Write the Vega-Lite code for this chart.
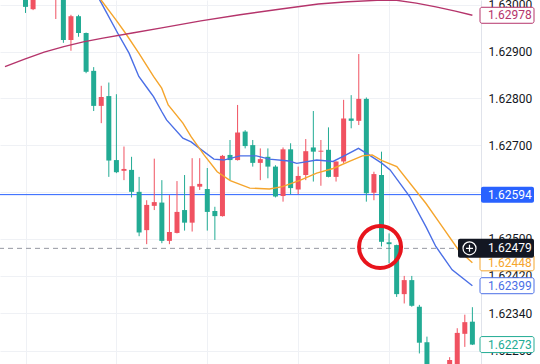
{
  "$schema": "https://vega.github.io/schema/vega-lite/v6.json",
  "width": 481,
  "height": 364,
  "autosize": {"type": "none"},
  "padding": {"left": 0, "top": 0, "right": 59, "bottom": 0},
  "background": "white",
  "config": {"view": {"stroke": null}, "font": "Roboto"},
  "datasets": {
    "candles": [
      {"i": 0, "o": 1.63032, "h": 1.63043, "l": 1.62983, "c": 1.62996},
      {"i": 1, "o": 1.62991, "h": 1.63028, "l": 1.62989, "c": 1.63017},
      {"i": 4, "o": 1.63021, "h": 1.63096, "l": 1.62970, "c": 1.63075},
      {"i": 5, "o": 1.63021, "h": 1.63032, "l": 1.62919, "c": 1.62925},
      {"i": 6, "o": 1.62925, "h": 1.62979, "l": 1.62902, "c": 1.62976},
      {"i": 7, "o": 1.62976, "h": 1.62979, "l": 1.62932, "c": 1.62940},
      {"i": 8, "o": 1.62940, "h": 1.62941, "l": 1.62854, "c": 1.62857},
      {"i": 9, "o": 1.62859, "h": 1.62867, "l": 1.62773, "c": 1.62784},
      {"i": 10, "o": 1.62784, "h": 1.62827, "l": 1.62747, "c": 1.62803},
      {"i": 11, "o": 1.62805, "h": 1.62834, "l": 1.62632, "c": 1.62667},
      {"i": 12, "o": 1.62668, "h": 1.62809, "l": 1.62640, "c": 1.62642},
      {"i": 13, "o": 1.62645, "h": 1.62697, "l": 1.62625, "c": 1.62649},
      {"i": 14, "o": 1.62647, "h": 1.62675, "l": 1.62588, "c": 1.62600},
      {"i": 15, "o": 1.62600, "h": 1.62632, "l": 1.62505, "c": 1.62513},
      {"i": 16, "o": 1.62518, "h": 1.62582, "l": 1.62488, "c": 1.62572},
      {"i": 17, "o": 1.62570, "h": 1.62671, "l": 1.62561, "c": 1.62578},
      {"i": 18, "o": 1.62577, "h": 1.62625, "l": 1.62490, "c": 1.62495},
      {"i": 19, "o": 1.62495, "h": 1.62593, "l": 1.62488, "c": 1.62514},
      {"i": 20, "o": 1.62512, "h": 1.62623, "l": 1.62511, "c": 1.62557},
      {"i": 21, "o": 1.62561, "h": 1.62636, "l": 1.62517, "c": 1.62534},
      {"i": 22, "o": 1.62534, "h": 1.62672, "l": 1.62515, "c": 1.62612},
      {"i": 23, "o": 1.62611, "h": 1.62672, "l": 1.62604, "c": 1.62617},
      {"i": 24, "o": 1.62606, "h": 1.62651, "l": 1.62517, "c": 1.62557},
      {"i": 25, "o": 1.62559, "h": 1.62568, "l": 1.62497, "c": 1.62548},
      {"i": 26, "o": 1.62548, "h": 1.62679, "l": 1.62547, "c": 1.62677},
      {"i": 27, "o": 1.62679, "h": 1.62711, "l": 1.62625, "c": 1.62668},
      {"i": 28, "o": 1.62668, "h": 1.62786, "l": 1.62667, "c": 1.62727},
      {"i": 29, "o": 1.62729, "h": 1.62732, "l": 1.62693, "c": 1.62698},
      {"i": 30, "o": 1.62700, "h": 1.62711, "l": 1.62654, "c": 1.62662},
      {"i": 31, "o": 1.62662, "h": 1.62693, "l": 1.62625, "c": 1.62670},
      {"i": 32, "o": 1.62675, "h": 1.62693, "l": 1.62629, "c": 1.62654},
      {"i": 33, "o": 1.62654, "h": 1.62657, "l": 1.62588, "c": 1.62590},
      {"i": 34, "o": 1.62591, "h": 1.62695, "l": 1.62579, "c": 1.62691},
      {"i": 35, "o": 1.62691, "h": 1.62704, "l": 1.62595, "c": 1.62608},
      {"i": 36, "o": 1.62605, "h": 1.62654, "l": 1.62595, "c": 1.62634},
      {"i": 37, "o": 1.62636, "h": 1.62713, "l": 1.62625, "c": 1.62687},
      {"i": 38, "o": 1.62695, "h": 1.62773, "l": 1.62622, "c": 1.62686},
      {"i": 39, "o": 1.62686, "h": 1.62711, "l": 1.62613, "c": 1.62688},
      {"i": 40, "o": 1.62690, "h": 1.62738, "l": 1.62631, "c": 1.62632},
      {"i": 41, "o": 1.62632, "h": 1.62665, "l": 1.62622, "c": 1.62665},
      {"i": 42, "o": 1.62665, "h": 1.62797, "l": 1.62661, "c": 1.62757},
      {"i": 43, "o": 1.62757, "h": 1.62807, "l": 1.62736, "c": 1.62752},
      {"i": 44, "o": 1.62752, "h": 1.62895, "l": 1.62743, "c": 1.62799},
      {"i": 45, "o": 1.62799, "h": 1.62802, "l": 1.62579, "c": 1.62597},
      {"i": 46, "o": 1.62598, "h": 1.62643, "l": 1.62582, "c": 1.62638},
      {"i": 47, "o": 1.62636, "h": 1.62686, "l": 1.62483, "c": 1.62493},
      {"i": 48, "o": 1.62492, "h": 1.62511, "l": 1.62447, "c": 1.62488},
      {"i": 49, "o": 1.62486, "h": 1.62487, "l": 1.62375, "c": 1.62381},
      {"i": 50, "o": 1.62381, "h": 1.62420, "l": 1.62361, "c": 1.62411},
      {"i": 51, "o": 1.62411, "h": 1.62420, "l": 1.62354, "c": 1.62356},
      {"i": 52, "o": 1.62354, "h": 1.62358, "l": 1.62254, "c": 1.62277},
      {"i": 53, "o": 1.62278, "h": 1.62290, "l": 1.62197, "c": 1.62208},
      {"i": 56, "o": 1.62214, "h": 1.62246, "l": 1.62197, "c": 1.62240},
      {"i": 57, "o": 1.62223, "h": 1.62308, "l": 1.62208, "c": 1.62298},
      {"i": 58, "o": 1.62296, "h": 1.62337, "l": 1.62268, "c": 1.62321},
      {"i": 59, "o": 1.62322, "h": 1.62353, "l": 1.62272, "c": 1.62273}
    ],
    "ma": [
      {"s": "MA short", "i": 8.93, "v": 1.63054},
      {"s": "MA short", "i": 9.79, "v": 1.63011},
      {"s": "MA short", "i": 12.16, "v": 1.62940},
      {"s": "MA short", "i": 13.67, "v": 1.62897},
      {"s": "MA short", "i": 14.96, "v": 1.62847},
      {"s": "MA short", "i": 16.26, "v": 1.62818},
      {"s": "MA short", "i": 16.9, "v": 1.62804},
      {"s": "MA short", "i": 17.98, "v": 1.62772},
      {"s": "MA short", "i": 18.62, "v": 1.62754},
      {"s": "MA short", "i": 20.78, "v": 1.62715},
      {"s": "MA short", "i": 21.86, "v": 1.62707},
      {"s": "MA short", "i": 23.15, "v": 1.62691},
      {"s": "MA short", "i": 24.87, "v": 1.62670},
      {"s": "MA short", "i": 26.16, "v": 1.62668},
      {"s": "MA short", "i": 28.32, "v": 1.62677},
      {"s": "MA short", "i": 30.48, "v": 1.62677},
      {"s": "MA short", "i": 32.2, "v": 1.62670},
      {"s": "MA short", "i": 34.78, "v": 1.62666},
      {"s": "MA short", "i": 35.81, "v": 1.62661},
      {"s": "MA short", "i": 38.44, "v": 1.62668},
      {"s": "MA short", "i": 40.6, "v": 1.62665},
      {"s": "MA short", "i": 42.32, "v": 1.62679},
      {"s": "MA short", "i": 43.96, "v": 1.62693},
      {"s": "MA short", "i": 45.35, "v": 1.62679},
      {"s": "MA short", "i": 47.07, "v": 1.62661},
      {"s": "MA short", "i": 48.14, "v": 1.62647},
      {"s": "MA short", "i": 50.72, "v": 1.62590},
      {"s": "MA short", "i": 52.88, "v": 1.62525},
      {"s": "MA short", "i": 54.17, "v": 1.62483},
      {"s": "MA short", "i": 56.33, "v": 1.62433},
      {"s": "MA short", "i": 59, "v": 1.62399},
      {"s": "MA mid", "i": 9.19, "v": 1.63054},
      {"s": "MA mid", "i": 9.96, "v": 1.63011},
      {"s": "MA mid", "i": 11.94, "v": 1.62968},
      {"s": "MA mid", "i": 13.23, "v": 1.62939},
      {"s": "MA mid", "i": 14.96, "v": 1.62897},
      {"s": "MA mid", "i": 16.9, "v": 1.62847},
      {"s": "MA mid", "i": 17.98, "v": 1.62822},
      {"s": "MA mid", "i": 18.84, "v": 1.62786},
      {"s": "MA mid", "i": 20.78, "v": 1.62747},
      {"s": "MA mid", "i": 21.86, "v": 1.62718},
      {"s": "MA mid", "i": 23.57, "v": 1.62679},
      {"s": "MA mid", "i": 25.31, "v": 1.62643},
      {"s": "MA mid", "i": 27.03, "v": 1.62624},
      {"s": "MA mid", "i": 29.61, "v": 1.62608},
      {"s": "MA mid", "i": 32.2, "v": 1.62606},
      {"s": "MA mid", "i": 33.92, "v": 1.62611},
      {"s": "MA mid", "i": 36.3, "v": 1.62625},
      {"s": "MA mid", "i": 38.44, "v": 1.62640},
      {"s": "MA mid", "i": 40.6, "v": 1.62650},
      {"s": "MA mid", "i": 42.76, "v": 1.62665},
      {"s": "MA mid", "i": 44.48, "v": 1.62677},
      {"s": "MA mid", "i": 45.77, "v": 1.62679},
      {"s": "MA mid", "i": 47.07, "v": 1.62667},
      {"s": "MA mid", "i": 49.02, "v": 1.62654},
      {"s": "MA mid", "i": 52.88, "v": 1.62575},
      {"s": "MA mid", "i": 55.04, "v": 1.62525},
      {"s": "MA mid", "i": 57.19, "v": 1.62475},
      {"s": "MA mid", "i": 59, "v": 1.62448},
      {"s": "MA long", "i": -2.71, "v": 1.62868},
      {"s": "MA long", "i": -0.12, "v": 1.62884},
      {"s": "MA long", "i": 2.46, "v": 1.62899},
      {"s": "MA long", "i": 5.05, "v": 1.62911},
      {"s": "MA long", "i": 7.63, "v": 1.62921},
      {"s": "MA long", "i": 10.22, "v": 1.62929},
      {"s": "MA long", "i": 14.1, "v": 1.62940},
      {"s": "MA long", "i": 17.98, "v": 1.62951},
      {"s": "MA long", "i": 23.15, "v": 1.62966},
      {"s": "MA long", "i": 28.32, "v": 1.62979},
      {"s": "MA long", "i": 33.49, "v": 1.62991},
      {"s": "MA long", "i": 38.66, "v": 1.63002},
      {"s": "MA long", "i": 42.54, "v": 1.63007},
      {"s": "MA long", "i": 46.42, "v": 1.63010},
      {"s": "MA long", "i": 49.0, "v": 1.63010},
      {"s": "MA long", "i": 51.59, "v": 1.63004},
      {"s": "MA long", "i": 54.18, "v": 1.62996},
      {"s": "MA long", "i": 56.76, "v": 1.62987},
      {"s": "MA long", "i": 59, "v": 1.62978}
    ],
    "levels": [
      {"s": "MA long", "v": 1.62978},
      {"s": "Close", "v": 1.62273},
      {"s": "MA short", "v": 1.62399},
      {"s": "MA mid", "v": 1.62448},
      {"s": "Line", "v": 1.62594},
      {"s": "Cursor", "v": 1.62479}
    ],
    "marker": [
      {"i": 46.81, "v": 1.62482}
    ]
  },
  "layer": [
    {
      "data": {"name": "levels"},
      "transform": [{"filter": "datum.s == 'Line'"}],
      "mark": {"type": "rule", "color": "#2962ff", "strokeWidth": 1},
      "encoding": {
        "y": {
          "field": "v", "type": "quantitative",
          "scale": {"domain": [1.622314, 1.630107], "nice": false, "zero": false},
          "axis": {
            "orient": "right", "title": null, "format": ".5f",
            "values": [1.63, 1.629, 1.628, 1.627, 1.626, 1.625, 1.6242, 1.6234, 1.6226],
            "grid": true, "gridColor": "#eff1f5", "gridWidth": 1,
            "domain": true, "domainColor": "#e0e3eb",
            "ticks": false, "tickSize": 0, "labelPadding": 7,
            "labelFontSize": 12, "labelFont": "Roboto", "labelColor": "#131722",
            "labelFlush": false, "labelOverlap": false, "labelBound": false
          }
        }
      }
    },
    {
      "data": {"name": "levels"},
      "transform": [{"filter": "datum.s == 'Cursor'"}],
      "mark": {"type": "rule", "color": "#9598a1", "strokeWidth": 1, "strokeDash": [5, 4]},
      "encoding": {
        "y": {"field": "v", "type": "quantitative", "scale": {"domain": [1.622314, 1.630107], "nice": false, "zero": false}}
      }
    },
    {
      "data": {"name": "candles"},
      "mark": {"type": "rule", "strokeWidth": 1, "clip": true},
      "encoding": {
        "x": {
          "field": "i", "type": "quantitative",
          "scale": {"domain": [-2.708, 59.477], "nice": false, "zero": false},
          "axis": {
            "values": [0, 12, 24, 36, 48], "labels": false, "ticks": false,
            "domain": false, "title": null, "grid": true, "gridColor": "#eff1f5"
          }
        },
        "y": {"field": "l", "type": "quantitative", "scale": {"domain": [1.622314, 1.630107], "nice": false, "zero": false}},
        "y2": {"field": "h"},
        "color": {"condition": {"test": "datum.c >= datum.o", "value": "#f05261"}, "value": "#22ab94"}
      }
    },
    {
      "data": {"name": "candles"},
      "mark": {"type": "bar", "width": 5, "clip": true},
      "encoding": {
        "x": {"field": "i", "type": "quantitative", "scale": {"domain": [-2.708, 59.477], "nice": false, "zero": false}},
        "y": {"field": "o", "type": "quantitative", "scale": {"domain": [1.622314, 1.630107], "nice": false, "zero": false}},
        "y2": {"field": "c"},
        "color": {"condition": {"test": "datum.c >= datum.o", "value": "#f05261"}, "value": "#22ab94"}
      }
    },
    {
      "data": {"name": "ma"},
      "mark": {"type": "line", "strokeWidth": 1.4, "clip": true, "interpolate": "linear"},
      "encoding": {
        "x": {"field": "i", "type": "quantitative", "scale": {"domain": [-2.708, 59.477], "nice": false, "zero": false}},
        "y": {"field": "v", "type": "quantitative", "scale": {"domain": [1.622314, 1.630107], "nice": false, "zero": false}},
        "color": {
          "field": "s", "type": "nominal", "legend": null,
          "scale": {"domain": ["MA long", "MA mid", "MA short", "Close", "Line", "Cursor"],
                    "range": ["#b5346b", "#f5a52c", "#4b6fe6", "#22ab94", "#2962ff", "#131722"]}
        }
      }
    },
    {
      "data": {"name": "marker"},
      "mark": {"type": "point", "shape": "circle", "size": 1764, "filled": false, "stroke": "#e8141c", "strokeWidth": 4, "opacity": 1},
      "encoding": {
        "x": {"field": "i", "type": "quantitative", "scale": {"domain": [-2.708, 59.477], "nice": false, "zero": false}},
        "y": {"field": "v", "type": "quantitative", "scale": {"domain": [1.622314, 1.630107], "nice": false, "zero": false}}
      }
    },
    {
      "data": {"name": "levels"},
      "transform": [{"filter": "datum.s != 'Line' && datum.s != 'Cursor'"}],
      "mark": {"type": "rect", "x": {"expr": "width - 1"}, "x2": {"expr": "width + 53"}, "yOffset": -8, "y2Offset": 8, "fill": "white", "strokeWidth": 1, "cornerRadius": 2},
      "encoding": {
        "y": {"field": "v", "type": "quantitative", "scale": {"domain": [1.622314, 1.630107], "nice": false, "zero": false}},
        "y2": {"field": "v"},
        "stroke": {
          "field": "s", "type": "nominal", "legend": null,
          "scale": {"domain": ["MA long", "MA mid", "MA short", "Close", "Line", "Cursor"],
                    "range": ["#b5346b", "#f5a52c", "#4b6fe6", "#22ab94", "#2962ff", "#131722"]}
        }
      }
    },
    {
      "data": {"name": "levels"},
      "transform": [{"filter": "datum.s != 'Line' && datum.s != 'Cursor'"}],
      "mark": {"type": "text", "x": {"expr": "width + 7"}, "align": "left", "baseline": "middle", "fontSize": 12, "font": "Roboto"},
      "encoding": {
        "y": {"field": "v", "type": "quantitative", "scale": {"domain": [1.622314, 1.630107], "nice": false, "zero": false}},
        "text": {"field": "v", "type": "quantitative", "format": ".5f"},
        "color": {
          "field": "s", "type": "nominal", "legend": null,
          "scale": {"domain": ["MA long", "MA mid", "MA short", "Close", "Line", "Cursor"],
                    "range": ["#b5346b", "#f5a52c", "#4b6fe6", "#22ab94", "#2962ff", "#131722"]}
        }
      }
    },
    {
      "data": {"name": "levels"},
      "transform": [{"filter": "datum.s == 'Line'"}],
      "mark": {"type": "rect", "x": {"expr": "width"}, "x2": {"expr": "width + 53"}, "yOffset": -8, "y2Offset": 8, "cornerRadius": 2},
      "encoding": {
        "y": {"field": "v", "type": "quantitative", "scale": {"domain": [1.622314, 1.630107], "nice": false, "zero": false}},
        "y2": {"field": "v"},
        "fill": {
          "field": "s", "type": "nominal", "legend": null,
          "scale": {"domain": ["MA long", "MA mid", "MA short", "Close", "Line", "Cursor"],
                    "range": ["#b5346b", "#f5a52c", "#4b6fe6", "#22ab94", "#2962ff", "#131722"]}
        }
      }
    },
    {
      "data": {"name": "levels"},
      "transform": [{"filter": "datum.s == 'Cursor'"}],
      "mark": {"type": "rect", "x": {"expr": "width - 23"}, "x2": {"expr": "width + 53"}, "yOffset": -9.5, "y2Offset": 9.5, "cornerRadius": 2},
      "encoding": {
        "y": {"field": "v", "type": "quantitative", "scale": {"domain": [1.622314, 1.630107], "nice": false, "zero": false}},
        "y2": {"field": "v"},
        "fill": {
          "field": "s", "type": "nominal", "legend": null,
          "scale": {"domain": ["MA long", "MA mid", "MA short", "Close", "Line", "Cursor"],
                    "range": ["#b5346b", "#f5a52c", "#4b6fe6", "#22ab94", "#2962ff", "#131722"]}
        }
      }
    },
    {
      "data": {"name": "levels"},
      "transform": [{"filter": "datum.s == 'Line' || datum.s == 'Cursor'"}],
      "mark": {"type": "text", "x": {"expr": "width + 7"}, "align": "left", "baseline": "middle", "fontSize": 12, "font": "Roboto", "color": "white"},
      "encoding": {
        "y": {"field": "v", "type": "quantitative", "scale": {"domain": [1.622314, 1.630107], "nice": false, "zero": false}},
        "text": {"field": "v", "type": "quantitative", "format": ".5f"}
      }
    },
    {
      "data": {"name": "levels"},
      "transform": [{"filter": "datum.s == 'Cursor'"}],
      "mark": {"type": "point", "x": {"expr": "width - 11.5"}, "shape": "circle", "size": 169, "filled": false, "stroke": "white", "strokeWidth": 1.2, "opacity": 1},
      "encoding": {
        "y": {"field": "v", "type": "quantitative", "scale": {"domain": [1.622314, 1.630107], "nice": false, "zero": false}}
      }
    },
    {
      "data": {"name": "levels"},
      "transform": [{"filter": "datum.s == 'Cursor'"}],
      "mark": {"type": "point", "x": {"expr": "width - 11.5"}, "shape": "M-1,0L1,0M0,-1L0,1", "size": 49, "filled": false, "stroke": "white", "strokeWidth": 1.2, "opacity": 1},
      "encoding": {
        "y": {"field": "v", "type": "quantitative", "scale": {"domain": [1.622314, 1.630107], "nice": false, "zero": false}}
      }
    }
  ]
}
